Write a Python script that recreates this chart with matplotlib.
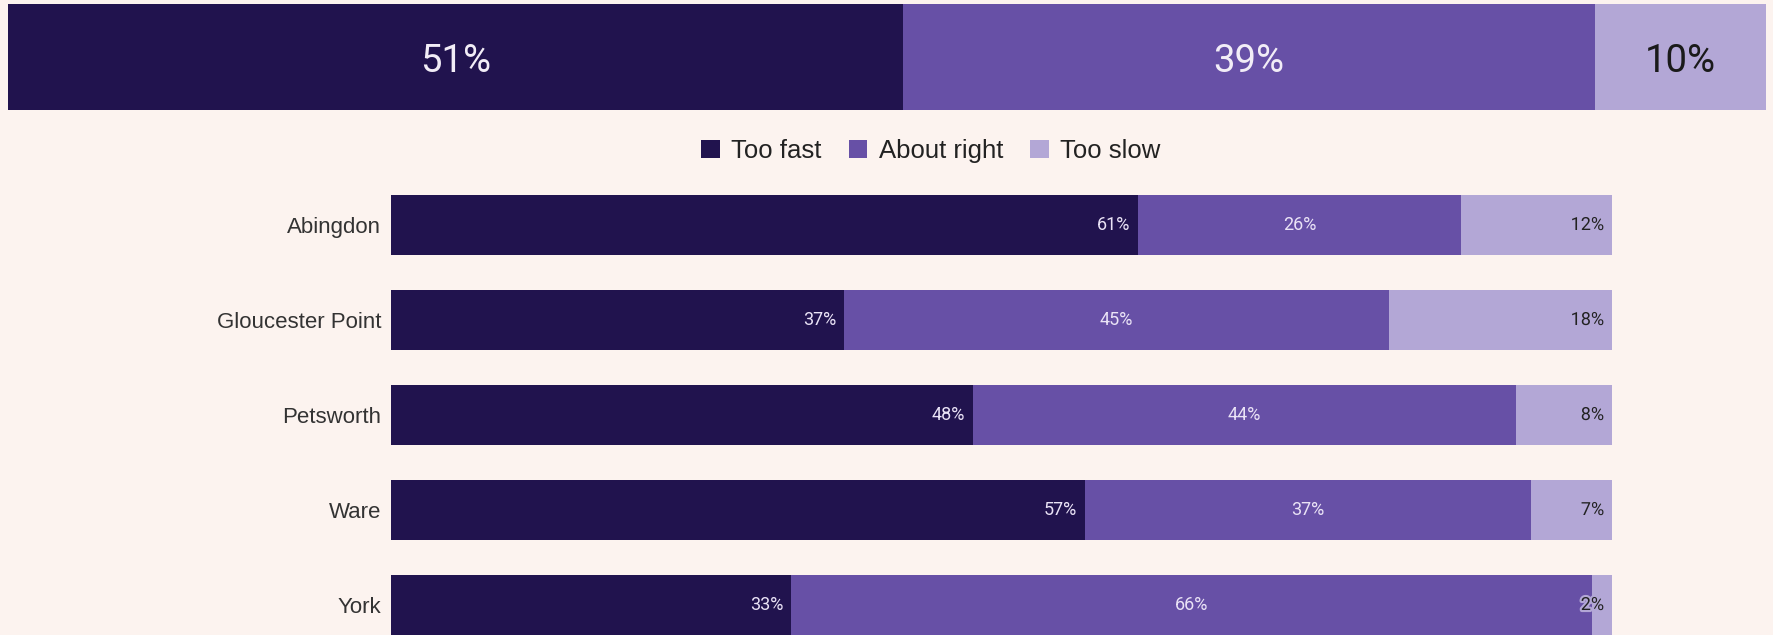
import matplotlib
matplotlib.use("Agg")
import matplotlib.pyplot as plt
import matplotlib.patheffects as pe
from matplotlib.patches import Patch
import numpy as np

# ---------------- data ----------------
series_names = ["Too fast", "About right", "Too slow"]
overall_values = [50.9, 39.4, 9.7]

categories = ["Abingdon", "Gloucester Point", "Petsworth", "Ware", "York"]
too_fast = [61.2, 37.1, 47.7, 56.8, 32.8]
about_right = [26.4, 44.6, 44.4, 36.6, 65.6]
too_slow = [12.4, 18.3, 7.9, 6.6, 1.6]

# ---------------- style ----------------
colors = ["#21134E", "#6750A6", "#B3A7D6"]
bg = "#FCF3EF"
W, H = 1773, 635
DPI = 100

fig = plt.figure(figsize=(W / DPI, H / DPI), dpi=DPI, facecolor=bg)


def px_axes(x0, y0, x1, y1):
    # pixel box (from top-left) -> figure axes
    return fig.add_axes([x0 / W, 1 - y1 / H, (x1 - x0) / W, (y1 - y0) / H])


# ---------------- top overall bar ----------------
ax_top = px_axes(8, 4, 1766, 110)
ax_top.set_facecolor(bg)
left = 0.0
top_text_colors = ["#F2EDF7", "#F2EDF7", "#1A1A1A"]
for i, v in enumerate(overall_values):
    ax_top.barh(0, v, left=left, height=1.0, color=colors[i], edgecolor="none")
    ax_top.text(left + v / 2, 0, f"{v:.0f}%", ha="center", va="center_baseline",
                fontsize=27.5, family=["Roboto", "DejaVu Sans"],
                color=top_text_colors[i])
    left += v
ax_top.set_xlim(0, sum(overall_values))
ax_top.set_ylim(-0.5, 0.5)
ax_top.axis("off")

# ---------------- legend ----------------
handles = [Patch(facecolor=c, edgecolor="none") for c in colors]
fig.legend(handles, series_names, loc="center",
           bbox_to_anchor=(931 / W, 1 - 151 / H), ncol=3, frameon=False,
           prop={"family": ["Liberation Sans", "DejaVu Sans"], "size": 18.5},
           handlelength=0.72, handleheight=0.72, handletextpad=0.45,
           columnspacing=1.05, labelcolor="#222222")

# ---------------- category bars ----------------
pitch = 95.0
c0 = 225.0
ax = px_axes(391, 160, 1612, 635)
ax.set_facecolor(bg)
y = np.arange(len(categories))
series = [too_fast, about_right, too_slow]
lefts = np.zeros(len(categories))
for si, vals in enumerate(series):
    vals = np.array(vals)
    ax.barh(y, vals, left=lefts, height=0.64, color=colors[si], edgecolor="none")
    for yi, (l, v) in enumerate(zip(lefts, vals)):
        lab = f"{v:.0f}%"
        if si == 1:
            ax.text(l + v / 2, yi, lab, ha="center", va="center", fontsize=13,
                    family=["Roboto", "DejaVu Sans"], color="#EAE3F6")
        elif si == 0:
            ax.annotate(lab, (l + v, yi), xytext=(-8, 0), textcoords="offset pixels",
                        ha="right", va="center", fontsize=13,
                        family=["Roboto", "DejaVu Sans"], color="#EAE3F6")
        else:
            ax.annotate(lab, (l + v, yi), xytext=(-8, 0), textcoords="offset pixels",
                        ha="right", va="center", fontsize=13,
                        family=["Roboto", "DejaVu Sans"], color="#222222",
                        path_effects=[pe.withStroke(linewidth=3, foreground=colors[2])])
    lefts = lefts + vals

ax.set_xlim(0, 100)
ax.set_ylim((635 - c0) / pitch, (160 - c0) / pitch)
ax.set_yticks(y)
ax.set_yticklabels(categories, family=["Liberation Sans", "DejaVu Sans"],
                   fontsize=16, color="#333333")
ax.tick_params(axis="y", length=0, pad=7)
ax.set_xticks([])
for s in ax.spines.values():
    s.set_visible(False)

fig.savefig("out.png", dpi=DPI, facecolor=bg)
